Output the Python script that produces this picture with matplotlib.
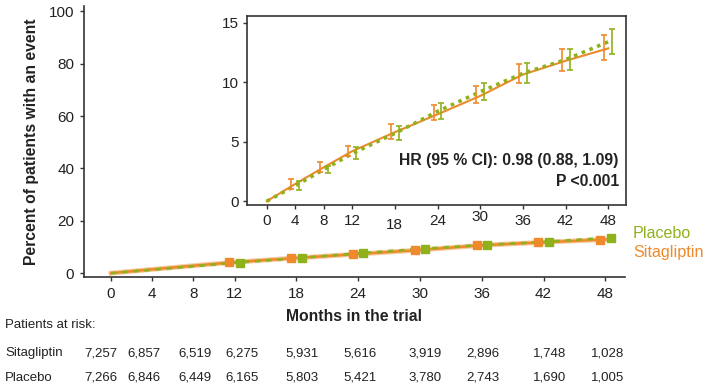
import matplotlib
matplotlib.use("Agg")
import matplotlib.pyplot as plt
import numpy as np

plt.rcParams["font.family"] = ["Liberation Sans", "DejaVu Sans"]

# data
months = [0, 4, 8, 12, 18, 24, 30, 36, 42, 48]
sita = [0, 1.45, 2.85, 4.2, 5.8, 7.3, 8.85, 10.65, 11.8, 12.85]
plac = [0, 1.3, 2.65, 4.0, 5.7, 7.55, 9.2, 10.75, 11.9, 13.4]
sita_lo = [1.04, 2.44, 3.79, 5.2, 6.83, 8.23, 9.92, 10.96, 11.88]
sita_hi = [1.88, 3.29, 4.63, 6.46, 8.06, 9.69, 11.52, 12.78, 13.96]
plac_lo = [0.93, 2.33, 3.51, 5.11, 6.94, 8.48, 9.92, 11.04, 12.36]
plac_hi = [1.69, 3.0, 4.55, 6.32, 8.23, 9.92, 11.6, 12.78, 14.47]
risk_sita = ["7,257", "6,857", "6,519", "6,275", "5,931", "5,616",
             "3,919", "2,896", "1,748", "1,028"]
risk_plac = ["7,266", "6,846", "6,449", "6,165", "5,803", "5,421",
             "3,780", "2,743", "1,690", "1,005"]
# the at-risk columns are not exactly under the ticks in the original
col_nudge_px = [-10, -8, 2, 7, 6, 2, 5, 1, 6, 2]

ORANGE = "#ee8a2c"
GREEN = "#8fb11c"
DARK = "#333333"
TXT = "#222222"

fig = plt.figure(figsize=(7.03, 3.87), dpi=100)

# main axes
ax = fig.add_axes([0.1195, 0.284, 0.889 - 0.1195, 0.9845 - 0.284])
ax.plot(months, sita, color="#f6c9a0", lw=3.5, zorder=2)
ax.plot(months, sita, color=ORANGE, lw=1.8, zorder=3)
ax.plot(months, plac, color=GREEN, lw=2, ls=(0, (2, 2)), zorder=4)
m_sel = slice(3, None)
ax.plot(np.array(months[m_sel]) - 0.5, sita[m_sel], ls="none", marker="s",
        ms=6, color=ORANGE, zorder=5)
ax.plot(np.array(months[m_sel]) + 0.5, plac[m_sel], ls="none", marker="s",
        ms=6, color=GREEN, zorder=5)
ax.set_xlim(-2.62, 49.9)
ax.set_ylim(-1.5, 102)
ax.set_xticks(months)
ax.set_yticks([0, 20, 40, 60, 80, 100])
for side in ["top", "right"]:
    ax.spines[side].set_visible(False)
for side in ["left", "bottom"]:
    ax.spines[side].set_color(DARK)
    ax.spines[side].set_linewidth(1.2)
ax.tick_params(colors=DARK, labelcolor=TXT, labelsize=11, length=3,
               width=1, pad=4)
ax.set_xlabel("Months in the trial", fontsize=11.3, fontweight="bold",
              color=TXT, labelpad=6)
ax.set_ylabel("Percent of patients with an event", fontsize=11.3,
              fontweight="bold", color=TXT, labelpad=7)

# legend as coloured text
fig.text(633 / 703, 1 - 233 / 387, "Placebo", color=GREEN, fontsize=11.6,
         ha="left", va="center")
fig.text(633 / 703, 1 - 252 / 387, "Sitagliptin", color=ORANGE, fontsize=11.6,
         ha="left", va="center")

# inset
ins = fig.add_axes([0.3514, 0.469, 0.890 - 0.3514, 0.9587 - 0.469])
ins.plot(months, sita, color=ORANGE, lw=1.5, zorder=3)
ins.plot(months, plac, color=GREEN, lw=2.6, ls=(0, (1, 1.3)), zorder=4)
s = np.array(sita[1:])
p = np.array(plac[1:])
ins.errorbar(np.array(months[1:]) - 0.55, s,
             yerr=[s - np.array(sita_lo), np.array(sita_hi) - s],
             fmt="none", ecolor=ORANGE, elinewidth=1.2, capsize=2.5,
             capthick=1.2, zorder=5)
ins.errorbar(np.array(months[1:]) + 0.55, p,
             yerr=[p - np.array(plac_lo), np.array(plac_hi) - p],
             fmt="none", ecolor=GREEN, elinewidth=1.2, capsize=2.5,
             capthick=1.2, zorder=5)
ins.set_xlim(-2.77, 50.44)
ins.set_ylim(-0.36, 15.57)
ins.set_xticks(months)
ins.set_yticks([0, 5, 10, 15])
for side in ins.spines.values():
    side.set_color(DARK)
    side.set_linewidth(1.2)
ins.tick_params(colors=DARK, labelcolor=TXT, labelsize=11, length=3,
                width=1, pad=3)
# the inset tick labels are slightly staggered in the original
for i, t in enumerate(ins.xaxis.get_major_ticks()):
    if months[i] == 18:
        t.set_pad(6)
    elif months[i] == 30:
        t.set_pad(0.5)
ins.text(0.982, 0.235, "HR (95 % CI): 0.98 (0.88, 1.09)", transform=ins.transAxes,
         ha="right", va="center", fontsize=11.3, fontweight="bold", color=TXT)
ins.text(0.982, 0.125, "P <0.001", transform=ins.transAxes,
         ha="right", va="center", fontsize=11.3, fontweight="bold", color=TXT)

# patients at risk table
fig.text(5 / 703, 1 - 325 / 387, "Patients at risk:", fontsize=9.5,
         ha="left", va="center", color=TXT)
for label, row, ypx in [("Sitagliptin", risk_sita, 353), ("Placebo", risk_plac, 378)]:
    yf = 1 - ypx / 387
    fig.text(5 / 703, yf, label, fontsize=9.5, ha="left", va="center",
             color=TXT)
    for m, val, dx in zip(months, row, col_nudge_px):
        xd = ax.transData.transform((m, 0))[0] + dx
        fig.text(xd / fig.bbox.width, yf, val, fontsize=9.5, ha="center",
                 va="center", color=TXT)

fig.savefig("out.png", dpi=100)
